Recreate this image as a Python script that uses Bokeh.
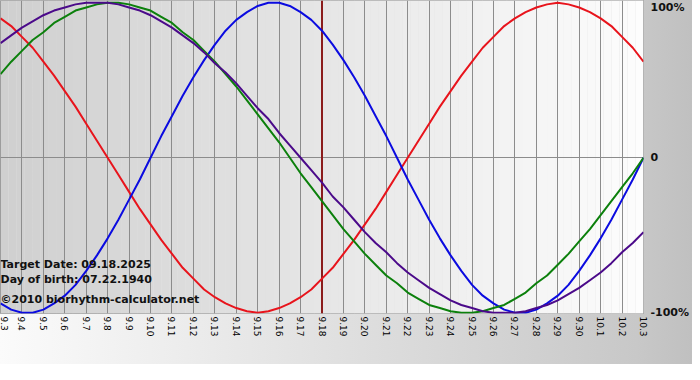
import numpy as np
from bokeh.plotting import figure
from bokeh.models import Range1d, FixedTicker, Label, Span
from bokeh.embed import file_html
from bokeh.resources import INLINE

# ---- data ----
dates = ["9.3", "9.4", "9.5", "9.6", "9.7", "9.8", "9.9", "9.10", "9.11", "9.12",
         "9.13", "9.14", "9.15", "9.16", "9.17", "9.18", "9.19", "9.20", "9.21",
         "9.22", "9.23", "9.24", "9.25", "9.26", "9.27", "9.28", "9.29", "9.30",
         "10.1", "10.2", "10.3"]
# curve values read every half day (from 9.3 to 10.3)
intellectual = [0.54, 0.62, 0.69, 0.76, 0.81, 0.87, 0.91, 0.95, 0.97, 0.99,
                1.00, 1.00, 0.99, 0.97, 0.95, 0.91, 0.87, 0.81, 0.76, 0.69,
                0.62, 0.54, 0.46, 0.37, 0.28, 0.19, 0.10, 0.00, -0.10, -0.19,
                -0.28, -0.37, -0.46, -0.54, -0.62, -0.69, -0.76, -0.81, -0.87, -0.91,
                -0.95, -0.97, -0.99, -1.00, -1.00, -0.99, -0.97, -0.95, -0.91, -0.87,
                -0.81, -0.76, -0.69, -0.62, -0.54, -0.46, -0.37, -0.28, -0.19, -0.10, 0.00]
emotional = [0.90, 0.85, 0.78, 0.71, 0.62, 0.53, 0.43, 0.33, 0.22, 0.11,
             0.00, -0.11, -0.22, -0.33, -0.43, -0.53, -0.62, -0.71, -0.78, -0.85,
             -0.90, -0.94, -0.97, -0.99, -1.00, -0.99, -0.97, -0.94, -0.90, -0.85,
             -0.78, -0.71, -0.62, -0.53, -0.43, -0.33, -0.22, -0.11, 0.00, 0.11,
             0.22, 0.33, 0.43, 0.53, 0.62, 0.71, 0.78, 0.85, 0.90, 0.94,
             0.97, 0.99, 1.00, 0.99, 0.97, 0.94, 0.90, 0.85, 0.78, 0.71, 0.62]
physical = [-0.94, -0.98, -1.00, -1.00, -0.98, -0.94, -0.89, -0.82, -0.73, -0.63,
            -0.52, -0.40, -0.27, -0.14, 0.00, 0.14, 0.27, 0.40, 0.52, 0.63,
            0.73, 0.82, 0.89, 0.94, 0.98, 1.00, 1.00, 0.98, 0.94, 0.89,
            0.82, 0.73, 0.63, 0.52, 0.40, 0.27, 0.14, 0.00, -0.14, -0.27,
            -0.40, -0.52, -0.63, -0.73, -0.82, -0.89, -0.94, -0.98, -1.00, -1.00,
            -0.98, -0.94, -0.89, -0.82, -0.73, -0.63, -0.52, -0.40, -0.27, -0.14, 0.00]
intuitive = [0.74, 0.79, 0.84, 0.88, 0.92, 0.95, 0.97, 0.99, 1.00, 1.00,
             1.00, 0.99, 0.97, 0.95, 0.92, 0.88, 0.84, 0.79, 0.74, 0.68,
             0.61, 0.55, 0.48, 0.40, 0.32, 0.25, 0.16, 0.08, 0.00, -0.08,
             -0.16, -0.25, -0.32, -0.40, -0.48, -0.55, -0.61, -0.68, -0.74, -0.79,
             -0.84, -0.88, -0.92, -0.95, -0.97, -0.99, -1.00, -1.00, -1.00, -0.99,
             -0.97, -0.95, -0.92, -0.88, -0.84, -0.79, -0.74, -0.68, -0.61, -0.55, -0.48]
target_index = 15
y_ticks = [-1, 0, 1]
y_tick_labels = ["-100%", "0", "100%"]
info_lines = ["Target Date: 09.18.2025", "Day of birth: 07.22.1940",
              "\u00a92010 biorhythm-calculator.net"]
legend_words = ["INTELLECTUAL", "EMOTIONAL", "PHYSICAL", "INTUITIVE"]

days = list(range(len(dates)))
sample_days = [i / 2 for i in range(len(intellectual))]

FONT = "DejaVu Sans"

p = figure(width=692, height=364, output_backend="svg", toolbar_location=None,
           x_range=Range1d(0, len(dates) - 1), y_range=Range1d(-1.005, 1.015),
           y_axis_location="right",
           min_border_left=0, min_border_top=0, min_border_right=49, min_border_bottom=51)
p.border_fill_color = None
p.styles = {"background": "linear-gradient(to right, #fbfbfb 0%, #c8c8c8 92%, #c0c0c0 100%)"}
p.background_fill_color = None
p.outline_line_color = "#8c8c8c"

# frame background gradient (dark left -> light right)
n = 80
edges = np.linspace(0, len(dates) - 1, n + 1)
shades = np.linspace(0xd0, 0xfd, n).astype(int)
cols = ["#%02x%02x%02x" % (s, s, s) for s in shades]
p.quad(left=edges[:-1], right=edges[1:] + 0.01, bottom=-2, top=2, color=cols,
       line_color=None, level="image")

# grid
p.xgrid.ticker = FixedTicker(ticks=days)
p.xgrid.grid_line_color = "#8c8c8c"
p.xgrid.grid_line_width = 1
p.ygrid.ticker = FixedTicker(ticks=[0])
p.ygrid.grid_line_color = "#8c8c8c"

# x axis
xa = p.xaxis[0]
xa.ticker = FixedTicker(ticks=days)
xa.major_label_overrides = {i: d for i, d in enumerate(dates)}
xa.major_label_orientation = -np.pi / 2
xa.major_label_text_font = FONT
xa.major_label_text_font_size = "9px"
xa.major_label_text_color = "#000000"
xa.major_label_standoff = 3
xa.axis_line_color = None
xa.major_tick_line_color = None
xa.minor_tick_line_color = None
xa.major_tick_out = 0
xa.major_tick_in = 0

# y axis (right)
ya = p.yaxis[0]
ya.ticker = FixedTicker(ticks=y_ticks)
ya.major_label_overrides = {t: l for t, l in zip(y_ticks, y_tick_labels)}
ya.major_label_text_font = FONT
ya.major_label_text_font_size = "11px"
ya.major_label_text_font_style = "bold"
ya.major_label_text_color = "#111111"
ya.major_label_standoff = 7
ya.axis_line_color = None
ya.major_tick_line_color = None
ya.minor_tick_line_color = None
ya.major_tick_out = 0
ya.major_tick_in = 0

# target date line
p.add_layout(Span(location=target_index, dimension="height", line_color="#8b1c1c",
                  line_width=2, level="underlay"))

# curves
p.line(sample_days, emotional, line_color="#e8141c", line_width=2)
p.line(sample_days, physical, line_color="#0b0be0", line_width=2)
p.line(sample_days, intellectual, line_color="#0c800c", line_width=2)
p.line(sample_days, intuitive, line_color="#4b0a8a", line_width=2)

# info texts
for txt, yy in zip(info_lines, [49, 34, 14]):
    p.add_layout(Label(x=0, y=yy, x_units="screen", y_units="screen", text=txt,
                       text_font=FONT, text_font_size="11px", text_font_style="bold",
                       text_color="#111111", text_baseline="middle"))

# colored legend words
legend_colors = ["#1e8c1e", "#ee1111", "#1111ee", "#5a168e"]
legend_x = [0, 100, 186, 255]
for w, c, xx in zip(legend_words, legend_colors, legend_x):
    p.add_layout(Label(x=xx, y=-40, x_units="screen", y_units="screen", text=w,
                       text_font=FONT, text_font_size="11px", text_font_style="bold",
                       text_color=c, text_baseline="middle"))

open("out.html", "w").write(file_html(p, INLINE))
